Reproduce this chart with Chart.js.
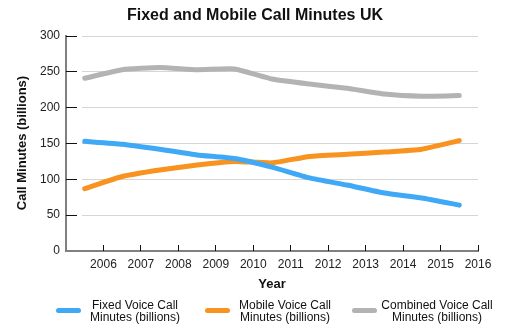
<!DOCTYPE html>
<html><head><meta charset="utf-8">
<script src="https://cdn.jsdelivr.net/npm/chart.js@4/dist/chart.umd.min.js"></script>
<style>html,body{margin:0;padding:0;background:#fff}#wrap{width:510px;height:330px}</style>
</head><body><div id="wrap"><canvas id="c" width="510" height="330"></canvas></div>
<script>
const chartTitle = 'Fixed and Mobile Call Minutes UK';
const xTitle = 'Year';
const yTitle = 'Call Minutes (billions)';
const years = [2005, 2006, 2007, 2008, 2009, 2010, 2011, 2012, 2013, 2014, 2015];
const fixedMinutes = [153, 149, 142, 134, 129, 117, 102, 92, 81, 74, 64];
const mobileMinutes = [87, 104, 113, 120, 125, 123, 132, 135, 138, 142, 154];
const combinedMinutes = [241, 253, 256, 253, 254, 240, 233, 227, 219, 216, 217];
const seriesLabels = [
  ['Fixed Voice Call', 'Minutes (billions)'],
  ['Mobile Voice Call', 'Minutes (billions)'],
  ['Combined Voice Call', 'Minutes (billions)']
];
const seriesColors = ['#3fa9f5', '#f7931e', '#b3b3b3'];
const yTickValues = [0, 50, 100, 150, 200, 250, 300];
const xFirstYear = 2005, xLastYear = 2016;

const FONT = "'Liberation Sans', Arial, sans-serif";
Chart.defaults.font.family = FONT;

// each year's value sits at the middle of that year's span
const toPoints = arr => arr.map((v, i) => ({ x: years[i] + 0.5, y: v }));
const align = p => Math.round(p - 0.5) + 0.5;

const decor = {
  id: 'decor',
  beforeDatasetsDraw(chart) {
    const ctx = chart.ctx, xs = chart.scales.x, ys = chart.scales.y;
    const a = chart.chartArea;
    ctx.save();
    yTickValues.forEach(v => {
      if (v === 0) return;
      const y = align(ys.getPixelForValue(v));
      ctx.fillStyle = '#fff';
      ctx.fillRect(a.left + 1, y - 1.5, 15, 3);
      ctx.strokeStyle = '#111';
      ctx.lineWidth = 1;
      ctx.beginPath();
      ctx.moveTo(a.left, y);
      ctx.lineTo(a.left + 11, y);
      ctx.stroke();
    });
    for (let yr = xFirstYear + 1; yr <= xLastYear; yr++) {
      const x = align(xs.getPixelForValue(yr));
      ctx.strokeStyle = '#111';
      ctx.lineWidth = 1;
      ctx.beginPath();
      ctx.moveTo(x, a.bottom);
      ctx.lineTo(x, a.bottom - 6);
      ctx.stroke();
    }
    ctx.restore();
  },
  afterDraw(chart) {
    const ctx = chart.ctx, a = chart.chartArea;
    ctx.save();
    ctx.fillStyle = '#111';
    ctx.textAlign = 'center';
    ctx.textBaseline = 'middle';
    ctx.font = 'bold 16px ' + FONT;
    ctx.fillText(chartTitle, 255, 16);
    ctx.font = 'bold 13px ' + FONT;
    ctx.fillText(xTitle, (a.left + a.right) / 2, 284);
    ctx.save();
    ctx.translate(22.5, 143);
    ctx.rotate(-Math.PI / 2);
    ctx.font = 'bold 13px ' + FONT;
    ctx.fillText(yTitle, 0, 0);
    ctx.restore();
    const items = [{ lx: 56, tx: 135 }, { lx: 205, tx: 285 }, { lx: 352, tx: 437 }];
    chart.data.datasets.forEach((ds, i) => {
      const it = items[i];
      ctx.strokeStyle = ds.borderColor;
      ctx.lineWidth = 5;
      ctx.lineCap = 'round';
      ctx.beginPath();
      ctx.moveTo(it.lx + 2.5, 310.5);
      ctx.lineTo(it.lx + 25 - 2.5, 310.5);
      ctx.stroke();
      ctx.fillStyle = '#111';
      ctx.font = '12px ' + FONT;
      seriesLabels[i].forEach((line, j) => ctx.fillText(line, it.tx, 306 + j * 12));
    });
    ctx.restore();
  }
};

new Chart(document.getElementById('c'), {
  type: 'line',
  data: {
    datasets: [
      { label: seriesLabels[0].join(' '), data: toPoints(fixedMinutes), borderColor: seriesColors[0] },
      { label: seriesLabels[1].join(' '), data: toPoints(mobileMinutes), borderColor: seriesColors[1] },
      { label: seriesLabels[2].join(' '), data: toPoints(combinedMinutes), borderColor: seriesColors[2] }
    ].map(d => Object.assign(d, { borderWidth: 5, pointRadius: 0, tension: 0.15, borderCapStyle: 'round', borderJoinStyle: 'round', fill: false }))
  },
  options: {
    responsive: false,
    animation: false,
    devicePixelRatio: 1,
    layout: { padding: { top: 36, right: 32, left: 0, bottom: 0 } },
    plugins: { legend: { display: false }, title: { display: false }, tooltip: { enabled: false } },
    scales: {
      x: {
        type: 'linear', min: xFirstYear, max: xLastYear,
        afterFit: s => { s.height = 79; },
        afterBuildTicks: s => { s.ticks = []; for (let y = xFirstYear; y <= xLastYear; y++) s.ticks.push({ value: y }); },
        ticks: { stepSize: 1, autoSkip: false, maxRotation: 0, padding: 6, color: '#222', font: { size: 12 },
          callback: v => v === xFirstYear ? '' : String(v) },
        grid: { display: false, drawTicks: false },
        border: { display: true, color: '#808080', width: 2 }
      },
      y: {
        min: 0, max: 300,
        afterFit: s => { s.width = 66; },
        afterBuildTicks: s => { s.ticks = yTickValues.map(v => ({ value: v })); },
        ticks: { padding: 6, color: '#222', font: { size: 12 } },
        grid: { display: true, drawTicks: false, color: '#d6d6d6', lineWidth: 1 },
        border: { display: true, color: '#808080', width: 2 }
      }
    }
  },
  plugins: [decor]
});
</script></body></html>
